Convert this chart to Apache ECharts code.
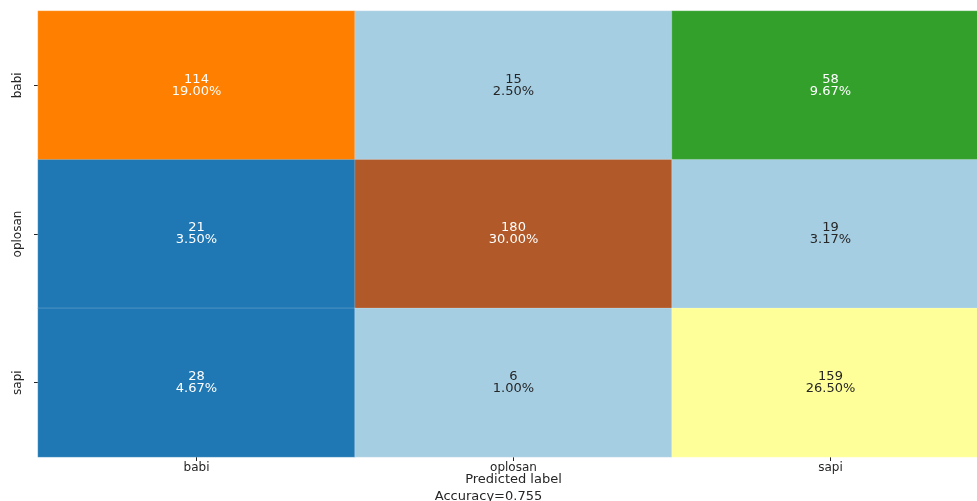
<!DOCTYPE html>
<html>
<head>
<meta charset="utf-8">
<script src="https://cdn.jsdelivr.net/npm/echarts@6/dist/echarts.min.js"></script>
<style>
  html, body { margin: 0; padding: 0; background: #fff; }
  #chart { width: 977px; height: 501px; }
</style>
</head>
<body>
<div id="chart"></div>
<script>
// Confusion matrix: rows = true label, columns = predicted label
const predictedLabels = ['babi', 'oplosan', 'sapi'];
const trueLabels = ['babi', 'oplosan', 'sapi'];
const rowBabi = [114, 15, 58];
const rowOplosan = [21, 180, 19];
const rowSapi = [28, 6, 159];
const matrixRows = [rowBabi, rowOplosan, rowSapi];

// "Paired" qualitative palette, 12 bins spread over the value range
const pairedPalette = ['#a6cee3', '#1f78b4', '#b2df8a', '#33a02c', '#fb9a99', '#e31a1c',
                       '#fdbf6f', '#ff7f00', '#cab2d6', '#6a3d9a', '#ffff99', '#b15928'];

const allValues = matrixRows.flat();
const total = allValues.reduce((a, b) => a + b, 0);
const vMin = Math.min(...allValues);
const vMax = Math.max(...allValues);
const correct = matrixRows.reduce((s, r, i) => s + r[i], 0);
const accuracy = correct / total;

const binWidth = (vMax - vMin) / pairedPalette.length;
const pieces = pairedPalette.map((c, i) => {
  const p = { gte: vMin + i * binWidth, color: c };
  if (i < pairedPalette.length - 1) p.lt = vMin + (i + 1) * binWidth;
  else p.lte = vMax;
  return p;
});

function colorFor(v) {
  let idx = Math.floor((v - vMin) / binWidth);
  idx = Math.max(0, Math.min(pairedPalette.length - 1, idx));
  return pairedPalette[idx];
}
function luminance(hex) {
  const ch = [1, 3, 5].map(i => parseInt(hex.substr(i, 2), 16) / 255)
    .map(c => c <= 0.03928 ? c / 12.92 : Math.pow((c + 0.055) / 1.055, 2.4));
  return 0.2126 * ch[0] + 0.7152 * ch[1] + 0.0722 * ch[2];
}

const cells = [];
matrixRows.forEach((row, r) => {
  row.forEach((v, c) => {
    const textColor = luminance(colorFor(v)) > 0.408 ? '#262626' : '#ffffff';
    cells.push({ value: [c, r, v], label: { color: textColor } });
  });
});

const chart = echarts.init(document.getElementById('chart'), null, { renderer: 'canvas' });
chart.setOption({
  backgroundColor: '#ffffff',
  animation: false,
  textStyle: { fontFamily: 'DejaVu Sans' },
  // the heatmap runs a little past the right edge of the canvas
  grid: { left: 38, width: 951, top: 11, bottom: 44, containLabel: false, outerBoundsMode: 'none' },
  title: {
    text: 'Accuracy=' + accuracy.toFixed(3),
    left: 'center',
    bottom: -7,
    textStyle: { fontSize: 13, fontWeight: 'normal', color: '#262626', fontFamily: 'DejaVu Sans' }
  },
  xAxis: {
    type: 'category',
    data: predictedLabels,
    name: 'Predicted label',
    nameLocation: 'middle',
    nameGap: 16,
    nameMoveOverlap: false,
    nameTextStyle: { fontSize: 13, color: '#262626' },
    axisLine: { show: false },
    axisTick: { show: true, alignWithLabel: true, length: 4, lineStyle: { color: '#262626' } },
    axisLabel: { fontSize: 12, color: '#262626', margin: 5 },
    splitArea: { show: false }
  },
  yAxis: {
    type: 'category',
    data: trueLabels,
    inverse: true,
    axisLine: { show: false },
    axisTick: { show: true, alignWithLabel: true, length: 4, lineStyle: { color: '#262626' } },
    axisLabel: { fontSize: 12, color: '#262626', rotate: 90, margin: 14 },
    splitArea: { show: false }
  },
  visualMap: {
    type: 'piecewise',
    show: false,
    dimension: 2,
    pieces: pieces
  },
  series: [{
    type: 'heatmap',
    data: cells,
    itemStyle: { borderColor: 'rgba(255,255,255,0.35)', borderWidth: 0.6 },
    label: {
      show: true,
      fontSize: 13,
      lineHeight: 12,
      fontFamily: 'DejaVu Sans',
      formatter: p => p.value[2] + '\n' + (p.value[2] / total * 100).toFixed(2) + '%'
    },
    emphasis: { disabled: true }
  }]
});
</script>
</body>
</html>
